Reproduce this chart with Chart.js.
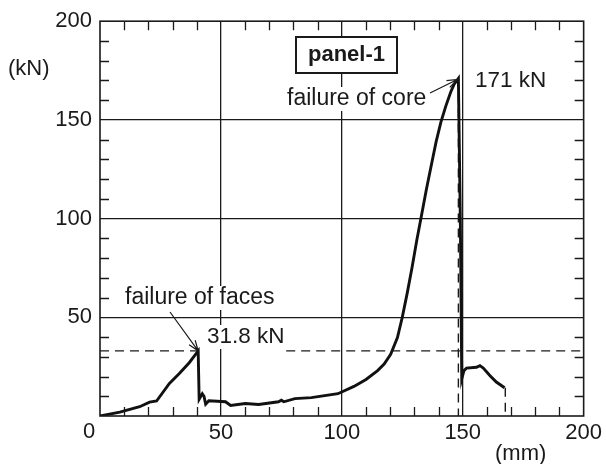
<!DOCTYPE html>
<html>
<head>
<meta charset="utf-8">
<script src="https://cdn.jsdelivr.net/npm/chart.js"></script>
<style>
  body { margin: 0; background: #fff; }
  canvas { display: block; }
</style>
</head>
<body>
<canvas id="loadChart" width="606" height="464"></canvas>
<script>
// Load-displacement curve, panel-1
const dispMm = [0, 8.2, 16.4, 20.5, 23.4, 28.7, 32.8, 36.9, 40.6,
  41.0, 42.3, 43.0, 43.7, 45.0, 51.9, 54.0, 60.1, 65.6, 73.8, 75.0, 76.0, 80.6, 87.4, 98.4,
  105, 110, 114.8, 117.5, 120.2, 123.0, 125.0, 127.0, 129.0, 131.0, 133.0, 135.0, 137.0, 139.0,
  141.0, 143.0, 145.0, 146.4, 148.2,
  149.0, 149.6, 150.5, 151.6, 155.7, 157.1, 158.5, 161.2, 163.9, 167.3];
const loadKn = [0, 2.0, 4.7, 7.0, 7.6, 16.5, 21.5, 27.0, 33.0,
  8.5, 11.3, 10.0, 6.0, 7.7, 7.2, 5.3, 6.3, 5.8, 7.2, 8.0, 7.2, 8.8, 9.3, 11.3,
  15.0, 18.5, 23.0, 26.3, 31.3, 39.7, 50.0, 62.0, 75.0, 89.0, 102.0, 115.0, 127.0, 139.0,
  149.0, 157.0, 164.0, 168.0, 171.0,
  100.0, 18.8, 23.0, 24.3, 24.7, 25.5, 24.3, 20.5, 17.2, 14.3];

// dashed guide lines
const faceLoad = 33;          // level of the face failure
const faceGapFrom = 43;       // dashed line broken for the label
const faceGapTo = 77;
const corePeakX = 148.2;
const corePeakY = 171;
const endX = 167.6;
const endY = 14.3;

// axes
const axisMin = 0;
const axisMax = 200;
const minorStep = 10;
const majorStep = 50;

const font = "'Liberation Sans', Arial, Helvetica, sans-serif";
const ink = '#1a1a1a';

const curve = dispMm.map((x, i) => ({ x: x, y: loadKn[i] }));

function dashed(points) {
  return {
    data: points,
    showLine: true,
    borderColor: ink,
    borderWidth: 1.4,
    borderDash: [9, 6],
    pointRadius: 0,
    fill: false,
  };
}

// inward minor ticks and the frame round the plot
const frame = {
  id: 'frame',
  afterDraw(chart) {
    const c = chart.ctx;
    const a = chart.chartArea;
    const xs = chart.scales.x;
    const ys = chart.scales.y;
    const len = 9;
    c.save();
    c.strokeStyle = ink;
    c.lineWidth = 1.3;
    c.beginPath();
    for (let v = axisMin + minorStep; v < axisMax; v += minorStep) {
      if (v % majorStep === 0) continue;
      const px = Math.round(xs.getPixelForValue(v)) + 0.5;
      c.moveTo(px, a.bottom); c.lineTo(px, a.bottom - len);
      c.moveTo(px, a.top); c.lineTo(px, a.top + len);
      const py = Math.round(ys.getPixelForValue(v)) + 0.5;
      c.moveTo(a.left, py); c.lineTo(a.left + len, py);
      c.moveTo(a.right, py); c.lineTo(a.right - len, py);
    }
    c.stroke();
    c.lineWidth = 1.6;
    c.strokeRect(a.left, a.top, a.right - a.left, a.bottom - a.top);
    c.restore();
  }
};

function label(c, text, x, y, bg) {
  const w = c.measureText(text).width;
  if (bg) {
    c.fillStyle = '#fff';
    c.fillRect(x - 2, y - 18, w + 4, 24);
  }
  c.fillStyle = ink;
  c.fillText(text, x, y);
}

function arrow(c, x0, y0, x1, y1) {
  const ang = Math.atan2(y1 - y0, x1 - x0);
  const h = 11;
  c.beginPath();
  c.moveTo(x0, y0);
  c.lineTo(x1, y1);
  c.moveTo(x1 - h * Math.cos(ang - 0.35), y1 - h * Math.sin(ang - 0.35));
  c.lineTo(x1, y1);
  c.lineTo(x1 - h * Math.cos(ang + 0.35), y1 - h * Math.sin(ang + 0.35));
  c.stroke();
}

const notes = {
  id: 'notes',
  afterDatasetsDraw(chart) {
    const c = chart.ctx;
    const xs = chart.scales.x;
    const ys = chart.scales.y;
    c.save();
    c.font = '22px ' + font;
    c.textBaseline = 'alphabetic';
    c.textAlign = 'left';

    // axis units and the lone zero
    label(c, '(kN)', 8, 75, false);
    label(c, '(mm)', 495, 460, false);
    c.textAlign = 'center';
    label(c, '0', 89, 438, false);
    c.textAlign = 'left';

    // panel name in a box
    c.fillStyle = '#fff';
    c.fillRect(296, 37, 101, 36);
    c.strokeStyle = ink;
    c.lineWidth = 2;
    c.strokeRect(296, 37, 101, 36);
    c.font = 'bold 22px ' + font;
    c.textAlign = 'center';
    label(c, 'panel-1', 346.5, 61, false);
    c.textAlign = 'left';

    // failure of core
    c.font = '23px ' + font;
    label(c, 'failure of core', 287, 105, true);
    c.font = '22.5px ' + font;
    label(c, '171 kN', 475, 87, false);
    c.lineWidth = 1.2;
    arrow(c, 430, 93, xs.getPixelForValue(corePeakX) - 1, ys.getPixelForValue(corePeakY) + 1);

    // failure of faces
    c.font = '23px ' + font;
    label(c, 'failure of faces', 125, 304, true);
    c.font = '22.5px ' + font;
    label(c, '31.8 kN', 207, 343, true);
    arrow(c, 170, 312, xs.getPixelForValue(40.6), ys.getPixelForValue(faceLoad));
    c.restore();
  }
};

const gridColor = (ctx) => {
  const v = ctx.tick ? ctx.tick.value : 0;
  return (v % majorStep === 0 && v > axisMin && v < axisMax) ? ink : 'rgba(0,0,0,0)';
};

new Chart(document.getElementById('loadChart'), {
  type: 'scatter',
  data: {
    datasets: [
      {
        data: curve,
        showLine: true,
        borderColor: '#111',
        borderWidth: 2.9,
        pointRadius: 0,
        tension: 0,
        fill: false,
      },
      dashed([{ x: axisMin, y: faceLoad }, { x: faceGapFrom, y: faceLoad }]),
      dashed([{ x: faceGapTo, y: faceLoad }, { x: axisMax, y: faceLoad }]),
      dashed([{ x: corePeakX, y: corePeakY }, { x: corePeakX, y: axisMin }]),
      dashed([{ x: endX, y: endY }, { x: endX, y: axisMin }]),
    ],
  },
  options: {
    responsive: false,
    animation: false,
    devicePixelRatio: 1,
    layout: { padding: { top: 16, right: 18, left: 0, bottom: 0 } },
    plugins: {
      legend: { display: false },
      tooltip: { enabled: false },
    },
    scales: {
      x: {
        type: 'linear',
        min: axisMin,
        max: axisMax,
        afterFit: (s) => { s.height = 48; },
        border: { display: false },
        grid: { color: gridColor, lineWidth: 1.3, drawTicks: false },
        ticks: {
          stepSize: minorStep,
          autoSkip: false,
          maxRotation: 0,
          padding: 4,
          color: ink,
          font: { family: font, size: 22 },
          callback: (v) => (v % majorStep === 0 && v !== 0) ? String(v) : '',
        },
      },
      y: {
        type: 'linear',
        min: axisMin,
        max: axisMax,
        afterFit: (s) => { s.width = 100; },
        border: { display: false },
        grid: { color: gridColor, lineWidth: 1.3, drawTicks: false },
        ticks: {
          stepSize: minorStep,
          autoSkip: false,
          padding: 8,
          color: ink,
          font: { family: font, size: 22 },
          callback: (v) => (v % majorStep === 0 && v !== 0) ? String(v) : '',
        },
      },
    },
  },
  plugins: [frame, notes],
});
</script>
</body>
</html>
